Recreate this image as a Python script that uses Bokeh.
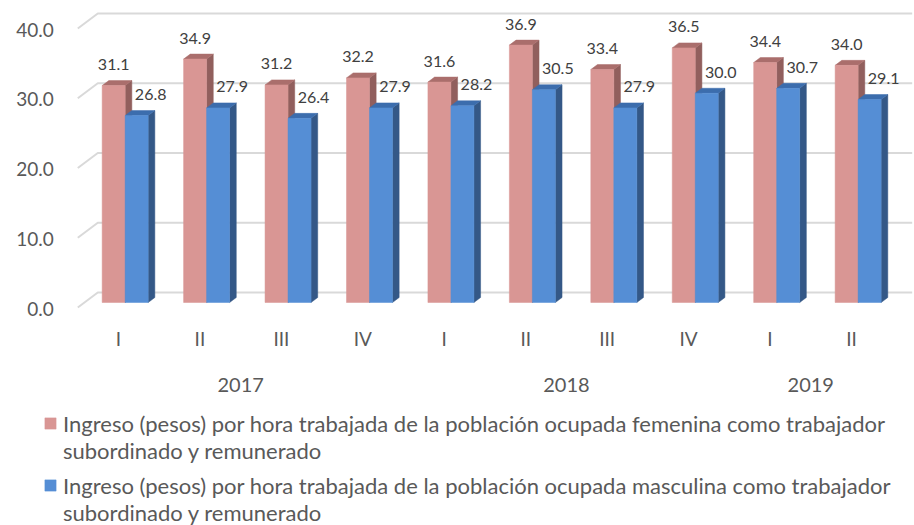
import numpy as np
from bokeh.plotting import figure
from bokeh.models import ColumnDataSource, Range1d, Legend, LegendItem
from bokeh.core.properties import value
from bokeh.embed import file_html
from bokeh.resources import INLINE

# ---------------- data ----------------
years = ["2017", "2018", "2019"]
year_of_bar = ["2017", "2017", "2017", "2017", "2018", "2018", "2018", "2018", "2019", "2019"]
quarters = ["I", "II", "III", "IV", "I", "II", "III", "IV", "I", "II"]
female = [31.1, 34.9, 31.2, 32.2, 31.6, 36.9, 33.4, 36.5, 34.4, 34.0]
male = [26.8, 27.9, 26.4, 27.9, 28.2, 30.5, 27.9, 30.0, 30.7, 29.1]
y_ticks = [0, 10, 20, 30, 40]
series_labels = [
    ["Ingreso (pesos) por hora trabajada de la población ocupada femenina como trabajador",
     "subordinado y remunerado"],
    ["Ingreso (pesos) por hora trabajada de la población ocupada masculina como trabajador",
     "subordinado y remunerado"],
]

# ---------------- layout (pixels) ----------------
W, H = 914, 525
PX_CAT = 81.44      # px per category
PX_VAL = 6.975      # px per value unit
ORIGIN_X = 118      # px from left of first category (front plane)
ORIGIN_Y = 307      # px from top of value 0 (front plane)
DEPTH_X, DEPTH_Y = 20.0, 15.0
BAR_PX = 23.0

FONT = "Lato"
C_F = ("#D99694", "#915F5D", "#AA6E6C")   # front, side, top
C_M = ("#558ED5", "#345887", "#3C6DAD")
GRID = "#D9D9D9"

DX = DEPTH_X / PX_CAT
DY = DEPTH_Y / PX_VAL
BW = BAR_PX / PX_CAT
FX, FY = DX / 3, DY / 3        # bar front plane offset
BDX, BDY = DX / 3, DY / 3      # bar depth

n = len(quarters)
g = np.arange(n, dtype=float)

p = figure(width=W, height=H, output_backend="svg", toolbar_location=None,
           x_range=Range1d(-ORIGIN_X / PX_CAT, (W - ORIGIN_X) / PX_CAT),
           y_range=Range1d(-(H - ORIGIN_Y) / PX_VAL, ORIGIN_Y / PX_VAL),
           min_border=0, min_border_left=0, min_border_right=0,
           min_border_top=0, min_border_bottom=0,
           x_axis_location=None, y_axis_location=None)
p.grid.visible = False
p.outline_line_color = None
p.background_fill_color = "white"

# ---------------- gridlines (left wall diagonal + back wall) ----------------
xL, xR = -0.5, n - 0.5
gx, gy = [], []
for v in y_ticks:
    gx.append([xL, xL + DX, xR + DX])
    gy.append([v, v + DY, v + DY])
p.multi_line(gx, gy, line_color=GRID, line_width=2)

# ---------------- 3D bars ----------------
def faces(left, vals):
    right = left + BW
    fx = {"x": [], "y": []}
    sx = {"x": [], "y": []}
    tx = {"x": [], "y": []}
    for l, r, v in zip(left, right, vals):
        fx["x"].append([l, r, r, l]); fx["y"].append([FY, FY, FY + v, FY + v])
        sx["x"].append([r, r + BDX, r + BDX, r]); sx["y"].append([FY, FY + BDY, FY + BDY + v, FY + v])
        tx["x"].append([l, r, r + BDX, l + BDX]); tx["y"].append([FY + v, FY + v, FY + v + BDY, FY + v + BDY])
    return fx, sx, tx

fronts = []
for left, vals, cols in [(g + FX - BW, female, C_F), (g + FX, male, C_M)]:
    fr, sd, tp = faces(left, vals)
    p.patches(sd["x"], sd["y"], fill_color=cols[1], line_color=cols[1], line_width=0.5)
    p.patches(tp["x"], tp["y"], fill_color=cols[2], line_color=cols[2], line_width=0.5)
    r = p.patches(fr["x"], fr["y"], fill_color=cols[0], line_color=cols[0], line_width=0.5)
    fronts.append(r)

# invisible renderer used for the second (glyph-less) line of each legend entry
blank = p.patches([[]], [[]], fill_alpha=0, line_alpha=0)

# ---------------- data labels ----------------
lab_f = ColumnDataSource(dict(x=g + FX - BW / 2, y=FY + np.array(female), t=[f"{v:.1f}" for v in female]))
lab_m = ColumnDataSource(dict(x=g + FX + BW / 2, y=FY + np.array(male), t=[f"{v:.1f}" for v in male]))
for src, xo in [(lab_f, 0), (lab_m, 14)]:
    p.text("x", "y", text="t", source=src, x_offset=xo, y_offset=-21,
           text_align="center", text_baseline="middle",
           text_font=value(FONT), text_font_size="16px", text_color="#404040")

# ---------------- y tick labels ----------------
yt = ColumnDataSource(dict(x=[xL] * len(y_ticks), y=y_ticks, t=[f"{v:.1f}" for v in y_ticks]))
p.text("x", "y", text="t", source=yt, x_offset=-24, y_offset=1,
       text_align="right", text_baseline="middle",
       text_font=value(FONT), text_font_size="19px", text_color="#595959")

# ---------------- category labels ----------------
qt = ColumnDataSource(dict(x=g, y=[0] * n, t=quarters))
p.text("x", "y", text="t", source=qt, y_offset=31,
       text_align="center", text_baseline="middle",
       text_font=value(FONT), text_font_size="19px", text_color="#595959")

year_x = [float(np.mean([i for i in range(n) if year_of_bar[i] == yr])) for yr in years]
yl = ColumnDataSource(dict(x=year_x, y=[0] * len(years), t=years))
p.text("x", "y", text="t", source=yl, y_offset=77,
       text_align="center", text_baseline="middle",
       text_font=value(FONT), text_font_size="20px", text_color="#595959")

# ---------------- legend (one Legend per series) ----------------
ROW = 27
for k, (lines, r) in enumerate(zip(series_labels, fronts)):
    first_center = 423 + k * 62
    bottom = first_center - ROW / 2 + 2 * ROW
    leg = Legend(items=[LegendItem(label=lines[0], renderers=[r]),
                        LegendItem(label=lines[1], renderers=[blank])],
                 location=(43, H - bottom), orientation="vertical",
                 border_line_color=None, background_fill_alpha=0,
                 padding=0, margin=0, spacing=0, label_height=ROW,
                 glyph_width=14, glyph_height=14, label_standoff=6,
                 label_text_font=FONT, label_text_font_size="22px",
                 label_text_color="#595959")
    p.add_layout(leg)

open("out.html", "w").write(file_html(p, INLINE))
